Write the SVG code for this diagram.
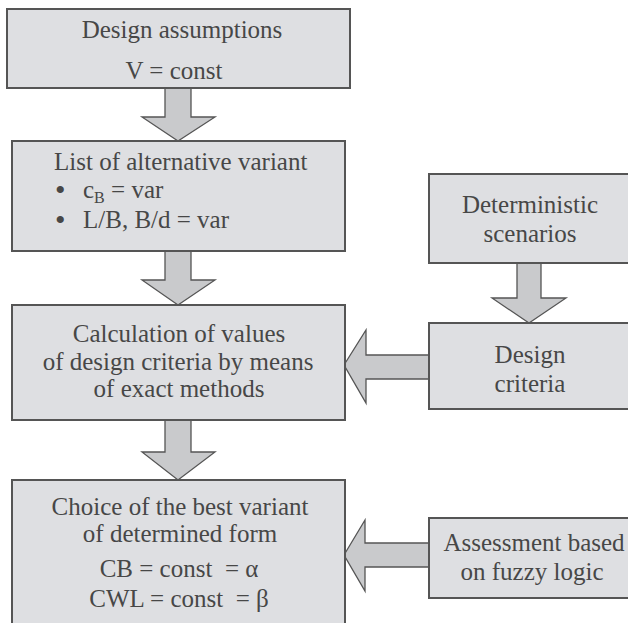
<svg xmlns="http://www.w3.org/2000/svg" width="628" height="623" viewBox="0 0 628 623" font-family="Liberation Serif, Times New Roman, Times, serif">
<style>
.box{fill:#dedfe2;stroke:#555;stroke-width:2}
.arr{fill:#c9cacc;stroke:#555;stroke-width:1.3;stroke-linejoin:miter}
.t{font-family:"Liberation Serif",Times,serif;font-size:25px;fill:#474747}
.c{text-anchor:middle}
.b{font-size:30px}
</style>
<rect width="628" height="623" fill="#fff"/>
<g id="connectors">
<polygon class="arr" points="165,88 191,88 191,117 215,117 178,141 142,117 165,117"/>
<polygon class="arr" points="165,251 191,251 191,280 215,280 178,305 142,280 165,280"/>
<polygon class="arr" points="165,420 191,420 191,452 215,452 178,480 142,452 165,452"/>
<polygon class="arr" points="517,263 541,263 541,298 566,298 529,323 492,298 517,298"/>
<polygon class="arr" points="344,365 366,330 366,355 430,355 430,379 366,379 366,403"/>
<polygon class="arr" points="344,555 365,520 365,543 430,543 430,567 365,567 365,591"/>
</g>
<g id="n1">
<rect class="box" x="7" y="9" width="343" height="79"/>
<text class="t c" x="182" y="38">Design assumptions</text>
<text class="t c" x="174" y="79">V = const</text>
</g>
<g id="n2">
<rect class="box" x="12" y="141" width="333" height="110"/>
<text class="t" x="54" y="170">List of alternative variant</text>
<text class="t b" x="55" y="200">•</text>
<text class="t" x="83" y="198">c<tspan font-size="16" dy="5">B</tspan><tspan dy="-5"> = var</tspan></text>
<text class="t b" x="55" y="230">•</text>
<text class="t" x="83" y="228">L/B, B/d = var</text>
</g>
<g id="n3">
<rect class="box" x="12" y="305" width="333" height="115"/>
<text class="t c" x="179" y="342">Calculation of values</text>
<text class="t c" x="178" y="370">of design criteria by means</text>
<text class="t c" x="179" y="397">of exact methods</text>
</g>
<g id="n4">
<rect class="box" x="12" y="480" width="333" height="150"/>
<text class="t c" x="180" y="515">Choice of the best variant</text>
<text class="t c" x="180" y="542">of determined form</text>
<text class="t c" x="179" y="577">CB = const&#160; = α</text>
<text class="t c" x="179" y="607">CWL = const&#160; = β</text>
</g>
<g id="n5">
<rect class="box" x="429" y="174" width="210" height="89"/>
<text class="t c" x="530" y="213">Deterministic</text>
<text class="t c" x="530" y="242">scenarios</text>
</g>
<g id="n6">
<rect class="box" x="429" y="323" width="210" height="86"/>
<text class="t c" x="530" y="363">Design</text>
<text class="t c" x="530" y="392">criteria</text>
</g>
<g id="n7">
<rect class="box" x="429" y="518" width="210" height="80"/>
<text class="t c" x="534" y="551">Assessment based</text>
<text class="t c" x="532" y="580">on fuzzy logic</text>
</g>
</svg>
